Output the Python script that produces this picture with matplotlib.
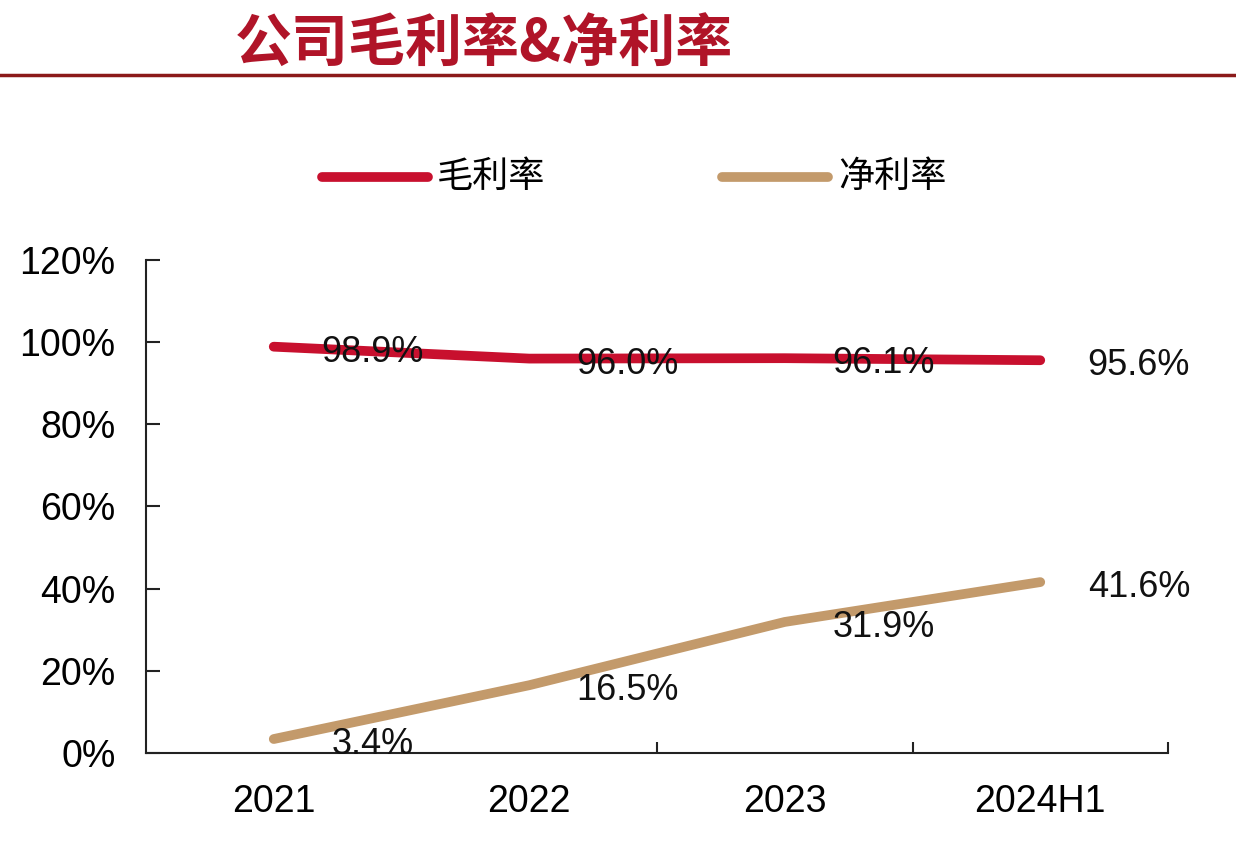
import matplotlib
matplotlib.use("Agg")
import matplotlib.pyplot as plt
from matplotlib.lines import Line2D

plt.rcParams['font.family'] = ['Liberation Sans', 'Noto Sans CJK SC', 'DejaVu Sans']

categories = ["2021", "2022", "2023", "2024H1"]
gross_margin = [98.9, 96.0, 96.1, 95.6]
net_margin = [3.4, 16.5, 31.9, 41.6]
gross_labels = ["98.9%", "96.0%", "96.1%", "95.6%"]
net_labels = ["3.4%", "16.5%", "31.9%", "41.6%"]
y_ticks = [0, 20, 40, 60, 80, 100, 120]
y_tick_labels = ["0%", "20%", "40%", "60%", "80%", "100%", "120%"]
series_names = ["毛利率", "净利率"]
title = "公司毛利率&净利率"

red = "#c8102e"
tan = "#c39a6b"

fig = plt.figure(figsize=(12.36, 8.46), dpi=100)
W, H = 1236, 846
ax = fig.add_axes([146 / W, 1 - 753 / H, (1168 - 146) / W, (753 - 260) / H])

x = list(range(len(categories)))
ax.plot(x, gross_margin, color=red, lw=7, solid_capstyle='round', solid_joinstyle='round', zorder=3)
ax.plot(x, net_margin, color=tan, lw=7, solid_capstyle='round', solid_joinstyle='round', zorder=3)

for xi, v, t in zip(x, gross_margin, gross_labels):
    ax.annotate(t, (xi, v), xytext=(71, -4), textcoords='offset points',
                ha='center', va='center', fontsize=26, color='#111111', zorder=4)
for xi, v, t in zip(x, net_margin, net_labels):
    ax.annotate(t, (xi, v), xytext=(71, -4), textcoords='offset points',
                ha='center', va='center', fontsize=26, color='#111111', zorder=4)

ax.set_xlim(-0.5, len(categories) - 0.5)
ax.set_ylim(0, 120)
ax.set_yticks(y_ticks)
ax.set_yticklabels(y_tick_labels, fontsize=27)
ax.set_xticks(x)
ax.set_xticklabels(categories, fontsize=27)
ax.set_xticks([i + 0.5 for i in x], minor=True)
ax.tick_params(axis='x', which='major', length=0, pad=22)
ax.tick_params(axis='x', which='minor', direction='in', length=8, width=1.5, color='#222222')
ax.tick_params(axis='y', direction='in', length=10, width=1.5, color='#222222', pad=22)
for s in ['top', 'right']:
    ax.spines[s].set_visible(False)
for s in ['left', 'bottom']:
    ax.spines[s].set_linewidth(1.5)
    ax.spines[s].set_color('#222222')

# Title and rule
fig.text(235 / W, 1 - 44 / H, title, fontsize=41, color='#b01428', fontweight='bold',
         ha='left', va='center', family=['Noto Sans CJK SC', 'DejaVu Sans'])
fig.add_artist(Line2D([0, 1], [1 - 75 / H, 1 - 75 / H], transform=fig.transFigure,
                      color='#8b1a1a', lw=2.5))

# Legend
ly = 1 - 177 / H
fig.add_artist(Line2D([322 / W, 428 / W], [ly, ly], transform=fig.transFigure,
                      color=red, lw=7, solid_capstyle='round'))
fig.text(437 / W, ly, series_names[0], fontsize=26, ha='left', va='center',
         family=['Noto Sans CJK SC', 'DejaVu Sans'])
fig.add_artist(Line2D([722 / W, 828 / W], [ly, ly], transform=fig.transFigure,
                      color=tan, lw=7, solid_capstyle='round'))
fig.text(838 / W, ly, series_names[1], fontsize=26, ha='left', va='center',
         family=['Noto Sans CJK SC', 'DejaVu Sans'])

fig.savefig("out.png", dpi=100)
